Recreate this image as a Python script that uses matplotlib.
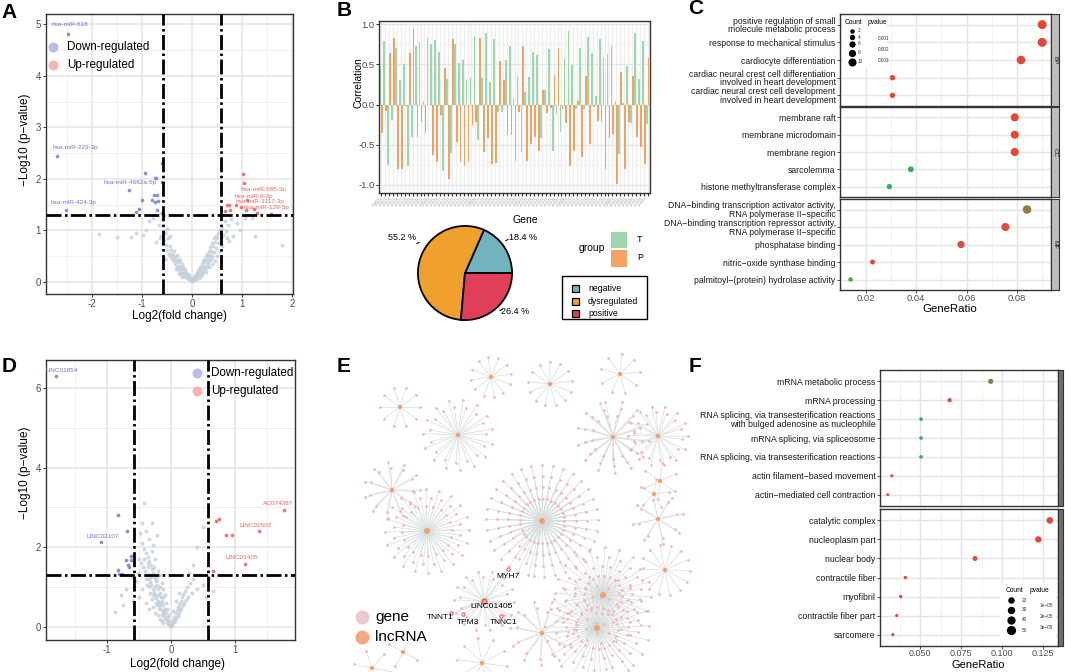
import numpy as np
import matplotlib
matplotlib.use("Agg")
import matplotlib.pyplot as plt
from matplotlib.colors import LinearSegmentedColormap, Normalize
from matplotlib.collections import LineCollection
from matplotlib.patches import Rectangle

plt.rcParams['font.family'] = ['Liberation Sans', 'DejaVu Sans']
plt.rcParams['axes.unicode_minus'] = False

# ======================= DATA =======================
# ---- Panel A (miRNA volcano) ----
A_grey = [(-1.85, 0.93), (-1.5, 0.88), (-1.22, 0.88), (-1.12, 0.95), (-0.98, 0.92), (-0.93, 1.0),
          (-0.86, 1.18), (-0.78, 1.25), (-0.72, 0.78), (-0.66, 1.1), (-0.62, 0.9), (-0.6, 1.2),
          (-0.58, 0.97), (-0.56, 0.82), (-0.54, 0.95), (-0.52, 0.72), (-0.5, 1.02), (-0.5, 0.62),
          (-0.48, 0.85), (-0.47, 0.55), (-0.45, 0.7), (-0.44, 0.5), (-0.42, 0.62), (-0.41, 0.45),
          (-0.4, 0.55), (-0.38, 0.5), (-0.37, 0.4), (-0.36, 0.6), (-0.35, 0.35), (-0.34, 0.48),
          (-0.32, 0.42), (-0.31, 0.3), (-0.3, 0.52), (-0.29, 0.38), (-0.28, 0.25), (-0.27, 0.45),
          (-0.26, 0.32), (-0.25, 0.2), (-0.24, 0.4), (-0.23, 0.28), (-0.22, 0.18), (-0.21, 0.35),
          (-0.2, 0.25), (-0.19, 0.15), (-0.18, 0.3), (-0.17, 0.22), (-0.16, 0.12), (-0.15, 0.26),
          (-0.14, 0.18), (-0.13, 0.1), (-0.12, 0.2), (-0.11, 0.14), (-0.1, 0.07), (-0.09, 0.16),
          (-0.08, 0.1), (-0.07, 0.05), (-0.06, 0.12), (-0.05, 0.07), (-0.04, 0.03), (-0.03, 0.08),
          (-0.02, 0.04), (-0.01, 0.02), (0.0, 0.01), (0.01, 0.03), (0.02, 0.06), (0.03, 0.04),
          (0.04, 0.1), (0.05, 0.07), (0.06, 0.14), (0.07, 0.1), (0.08, 0.05), (0.09, 0.17),
          (0.1, 0.12), (0.11, 0.22), (0.12, 0.15), (0.13, 0.08), (0.14, 0.25), (0.15, 0.18),
          (0.16, 0.3), (0.17, 0.22), (0.18, 0.12), (0.19, 0.35), (0.2, 0.28), (0.21, 0.4),
          (0.22, 0.2), (0.23, 0.32), (0.24, 0.45), (0.25, 0.25), (0.26, 0.38), (0.27, 0.5),
          (0.28, 0.3), (0.29, 0.42), (0.3, 0.55), (0.31, 0.35), (0.32, 0.48), (0.33, 0.6),
          (0.34, 0.4), (0.35, 0.52), (0.36, 0.68), (0.37, 0.45), (0.38, 0.6), (0.39, 0.75),
          (0.4, 0.5), (0.42, 0.7), (0.43, 0.85), (0.44, 0.58), (0.46, 0.78), (0.47, 0.9),
          (0.48, 0.65), (0.5, 0.85), (0.52, 0.95), (0.54, 0.75), (0.56, 1.0), (0.58, 0.88),
          (0.6, 1.05), (0.62, 0.92), (0.65, 1.18), (0.68, 0.98), (0.72, 1.1), (0.74, 0.8),
          (0.78, 1.22), (0.82, 0.9), (0.9, 1.15), (0.95, 1.0), (1.05, 1.25), (1.2, 1.25),
          (1.25, 0.9), (1.8, 0.72), (-0.55, 0.45), (-0.45, 0.9), (0.45, 0.4), (0.55, 0.6),
          (-0.33, 0.25), (-0.27, 0.15), (-0.2, 0.1), (0.2, 0.15), (0.27, 0.2), (0.33, 0.3),
          (0.4, 0.35), (0.5, 0.5), (0.6, 0.7), (0.7, 0.85), (-0.6, 0.75), (-0.65, 0.85)]
A_down_x = [-2.47, -2.69, -2.52, -0.95, -0.75, -0.73, -0.61, -1.27, -1.00, -1.07, -1.13,
            -0.77, -0.71, -0.80, -0.75, -0.69, -0.70, -0.60, -0.61]
A_down_y = [4.82, 2.45, 1.39, 2.12, 2.01, 2.02, 1.94, 1.78, 1.60, 1.42, 1.36,
            1.68, 1.68, 1.59, 1.55, 1.57, 1.40, 1.33, 2.30]
A_up_x = [1.02, 1.03, 0.69, 0.73, 0.65, 0.75, 0.88, 1.07, 1.23, 1.30, 1.57, 1.10, 0.97]
A_up_y = [2.10, 1.92, 1.50, 1.49, 1.38, 1.39, 1.49, 1.39, 1.42, 1.33, 1.31, 1.59, 1.46]
A_labels = ["hsa-miR-618", "hsa-miR-223-3p", "hsa-miR-4662a-5p", "hsa-miR-424-3p",
            "hsa-miR-585-3p", "hsa-miR-9-3p", "hsa-miR-3117-3p", "hsa-miR-129-5p"]
A_label_x = [-2.44, -2.34, -1.24, -2.37, 1.43, 1.23, 1.35, 1.49]
A_label_y = [4.99, 2.61, 1.93, 1.55, 1.79, 1.66, 1.56, 1.45]
A_label_up = [False, False, False, False, True, True, True, True]

# ---- Panel D (lncRNA volcano) ----
D_grey = [(-0.02, 0.04), (-0.03, 0.15), (-0.05, 0.08), (-0.06, 0.25), (-0.07, 0.12), (-0.08, 0.35),
          (-0.09, 0.2), (-0.1, 0.45), (-0.11, 0.28), (-0.12, 0.55), (-0.13, 0.35), (-0.14, 0.65),
          (-0.15, 0.42), (-0.16, 0.75), (-0.17, 0.5), (-0.18, 0.85), (-0.19, 0.58), (-0.2, 0.95),
          (-0.21, 0.65), (-0.22, 1.05), (-0.23, 0.72), (-0.24, 1.15), (-0.25, 0.8), (-0.26, 1.25),
          (-0.27, 0.88), (-0.28, 1.35), (-0.29, 0.95), (-0.3, 1.45), (-0.31, 1.05), (-0.32, 1.55),
          (-0.33, 1.12), (-0.34, 1.65), (-0.35, 1.2), (-0.36, 1.75), (-0.38, 1.3), (-0.39, 1.85),
          (-0.41, 1.4), (-0.42, 1.95), (-0.44, 1.5), (-0.45, 2.1), (-0.47, 1.6), (-0.48, 2.35),
          (-0.5, 1.7), (-0.46, 2.6), (-0.43, 3.1), (-0.52, 1.35), (-0.55, 1.15), (-0.58, 1.0),
          (-0.62, 1.25), (-0.7, 0.95), (-0.78, 0.8), (-0.88, 0.38), (-0.75, 0.55), (-0.6, 0.65),
          (-0.5, 0.75), (-0.4, 0.6), (-0.35, 0.45), (-0.3, 0.7), (-0.28, 0.5), (-0.25, 0.35),
          (-0.22, 0.55), (-0.2, 0.3), (-0.18, 0.2), (-0.15, 0.15), (-0.12, 0.1), (-0.3, 1.9),
          (-0.25, 1.7), (-0.2, 1.4), (-0.15, 1.1), (-0.1, 0.8), (-0.35, 2.2), (-0.28, 2.05),
          (-0.4, 2.4), (-0.22, 2.3), (-0.3, 2.6), (-0.45, 0.95), (-0.38, 1.05), (-0.33, 0.85),
          (-0.17, 1.3), (-0.12, 0.95), (-0.08, 0.6), (-0.06, 0.45), (-0.04, 0.3), (-0.26, 1.0),
          (-0.31, 1.25), (-0.36, 1.5), (-0.21, 0.8), (-0.16, 0.6), (-0.11, 0.4), (-0.07, 0.2),
          (0.0, 0.02), (0.01, 0.1), (0.02, 0.05), (0.03, 0.18), (0.04, 0.12), (0.05, 0.26),
          (0.06, 0.15), (0.07, 0.34), (0.08, 0.22), (0.09, 0.42), (0.1, 0.28), (0.11, 0.5),
          (0.12, 0.35), (0.13, 0.58), (0.14, 0.42), (0.15, 0.66), (0.16, 0.48), (0.17, 0.74),
          (0.18, 0.55), (0.19, 0.82), (0.2, 0.6), (0.22, 0.9), (0.23, 0.68), (0.25, 1.0),
          (0.27, 0.75), (0.3, 1.1), (0.32, 0.85), (0.35, 1.2), (0.4, 0.95), (0.45, 1.3),
          (0.5, 1.05), (0.55, 0.75), (0.6, 1.2), (0.65, 0.9), (0.4, 2.0), (0.5, 2.5),
          (0.35, 1.55), (0.28, 1.35), (0.12, 0.85), (0.08, 0.65), (0.03, 0.4),
          (-0.24, 0.6), (-0.19, 0.45), (-0.14, 0.3), (-0.29, 0.8), (-0.34, 1.0), (-0.39, 1.2),
          (-0.43, 1.7), (-0.37, 1.6), (-0.27, 1.5), (-0.23, 1.2), (-0.18, 1.0), (-0.13, 0.75)]
D_down_x = [-1.80, -0.83, -0.69, -1.10, -0.63, -0.63, -0.70, -0.68, -0.66, -0.83, -0.82, -0.77]
D_down_y = [6.29, 2.81, 2.41, 2.14, 1.78, 1.68, 1.68, 1.56, 1.51, 1.43, 1.32, 1.32]
D_up_x = [0.70, 0.75, 0.86, 0.96, 1.38, 1.77, 1.16, 0.66]
D_up_y = [2.65, 2.70, 2.31, 2.31, 2.40, 2.94, 1.58, 1.39]
D_labels = ["LINC01854", "LINC02107", "AC074387", "LINC02502", "LINC01405"]
D_label_x = [-1.71, -1.07, 1.67, 1.32, 1.11]
D_label_y = [6.43, 2.27, 3.09, 2.55, 1.73]
D_label_up = [False, False, True, True, True]

FC_CUT = 0.585
P_CUT = 1.301

# ---- Panel B (correlation bars) ----
B_T = [0.46, 0.79, -0.75, -0.19, 0.70, 0.30, 0.50, -0.77, -0.40, 0.73, 0.78, 0.04, 0.83, 0.75,
       0.80, 0.66, -0.83, 0.32, -0.60, 0.75, 0.52, 0.55, 0.31, 0.34, 0.85, -0.44, 0.33, 0.89,
       0.28, 0.82, -0.09, -0.09, 0.55, 0.73, 0.08, 0.35, -0.59, 0.16, 0.34, 0.66, 0.62, -0.41,
       0.18, 0.69, -0.58, -0.12, -0.34, 0.58, 0.91, 0.49, -0.05, 0.71, -0.05, 0.84, 0.64, 0.11,
       0.81, 0.59, 0.63, 0.73, 0.05, -0.62, 0.02, 0.48, -0.23, 0.89, 0.32, 0.79, -0.24]
B_P = [-0.35, -0.08, 0.64, 0.83, -0.80, -0.80, -0.02, 0.64, 0.94, -0.40, -0.22, -0.35, -0.01,
       -0.63, -0.71, -0.13, 0.46, -0.93, 0.82, -0.46, -0.71, -0.77, -0.71, -0.26, -0.22, 0.83,
       -0.59, -0.42, -0.74, -0.73, 0.54, 0.30, -0.38, -0.38, -0.70, -0.09, 0.73, -0.70, -0.49,
       -0.40, -0.58, 0.18, -0.11, -0.04, 0.37, 0.71, -0.05, -0.23, -0.77, -0.58, 0.04, -0.65,
       0.35, -0.49, -0.03, -0.21, -0.22, -0.80, -0.41, -0.36, -0.99, 0.41, -0.80, -0.22, 0.36,
       -0.40, -0.53, -0.74, 0.58]
B_genes = ["gene%02d" % (i + 1) for i in range(len(B_T))]
B_pie_labels = ["negative", "dysregulated", "positive"]
B_pie_vals = [18.4, 55.2, 26.4]

# ---- Panel C (GO dot plot, 3 facets) ----
C_BP_terms = ["positive regulation of small\nmolecule metabolic process",
              "response to mechanical stimulus", "cardiocyte differentiation",
              "cardiac neural crest cell differentiation\ninvolved in heart development",
              "cardiac neural crest cell development\ninvolved in heart development"]
C_BP_ratio = [0.090, 0.090, 0.0816, 0.0306, 0.0306]
C_BP_count = [12, 12, 11, 4, 4]
C_BP_p = [0.0002, 0.0002, 0.0002, 0.0002, 0.0002]
C_CC_terms = ["membrane raft", "membrane microdomain", "membrane region", "sarcolemma",
              "histone methyltransferase complex"]
C_CC_ratio = [0.0791, 0.0791, 0.0791, 0.0379, 0.0294]
C_CC_count = [10, 10, 10, 5, 4]
C_CC_p = [0.0002, 0.0002, 0.0002, 0.0031, 0.0032]
C_MF_terms = ["DNA\u2212binding transcription activator activity,\nRNA polymerase II\u2212specific",
              "DNA\u2212binding transcription repressor activity,\nRNA polymerase II\u2212specific",
              "phosphatase binding", "nitric\u2212oxide synthase binding",
              "palmitoyl\u2212(protein) hydrolase activity"]
C_MF_ratio = [0.084, 0.0754, 0.0578, 0.0227, 0.014]
C_MF_count = [11, 10, 8, 3, 2]
C_MF_p = [0.0016, 0.0003, 0.0005, 0.0003, 0.0026]
C_facets = ["BP", "CC", "MF"]

# ---- Panel F (GO dot plot, 2 facets) ----
F1_terms = ["mRNA metabolic process", "mRNA processing",
            "RNA splicing, via transesterification reactions\nwith bulged adenosine as nucleophile",
            "mRNA splicing, via spliceosome", "RNA splicing, via transesterification reactions",
            "actin filament\u2212based movement", "actin\u2212mediated cell contraction"]
F1_ratio = [0.093, 0.068, 0.0506, 0.0506, 0.0506, 0.0328, 0.0303]
F1_count = [40, 30, 22, 22, 22, 15, 14]
F1_p = [2.2e-5, 0.9e-5, 3.9e-5, 3.9e-5, 3.9e-5, 0.4e-5, 0.4e-5]
F2_terms = ["catalytic complex", "nucleoplasm part", "nuclear body", "contractile fiber",
            "myofibril", "contractile fiber part", "sarcomere"]
F2_ratio = [0.129, 0.122, 0.0835, 0.041, 0.0382, 0.0358, 0.0334]
F2_count = [57, 54, 38, 19, 18, 17, 16]
F2_p = [0.5e-5, 0.4e-5, 0.9e-5, 0.5e-5, 0.5e-5, 0.8e-5, 0.9e-5]

# ---- Panel E (lncRNA-gene network; hub layout in pixel space) ----
E_hub_x = [400, 491, 550, 620, 458, 613, 658, 392, 427, 542, 660, 654, 658, 665, 603, 597, 484, 542, 403, 482, 372]
E_hub_y = [407, 377, 384, 374, 435, 437, 436, 490, 531, 521, 481, 494, 519, 570, 595, 628, 601, 633, 652, 663, 668]
E_hub_n = [10, 12, 13, 9, 30, 40, 28, 22, 60, 130, 6, 5, 16, 14, 80, 90, 28, 22, 4, 10, 6]
E_hub_r = [20, 20, 22, 20, 35, 36, 30, 28, 42, 56, 18, 15, 25, 25, 48, 52, 30, 32, 16, 25, 18]
E_focus_hub = 16
E_genes = ["MYH7", "TNNT1", "TPM3", "TNNC1"]
E_gene_x = [508, 451, 463, 501]
E_gene_y = [569, 613, 614, 616]

# ======================= FIGURE =======================
W, H = 1065, 672
fig = plt.figure(figsize=(W / 100, H / 100), dpi=100)


def px_axes(l, t, r, b, **kw):
    return fig.add_axes([l / W, 1 - b / H, (r - l) / W, (b - t) / H], **kw)


def style_spines(ax, color='#333333', lw=1.0):
    for s in ax.spines.values():
        s.set_color(color)
        s.set_linewidth(lw)


def s_of(d_px):
    return (np.asarray(d_px) * 0.72) ** 2


GRID_MAJ = '#e4e4e4'
GRID_MIN = '#f1f1f1'
DASH = (0, (5.4, 1.25, 0.9, 1.25))


def volcano(ax, grey, dx, dy, ux, uy, labs, lx, ly, lup, xlim, ylim, xmaj, xmin_, ymaj, ymin_):
    ax.set_xlim(xlim)
    ax.set_ylim(ylim)
    for v in xmin_:
        ax.axvline(v, color=GRID_MIN, lw=0.7, zorder=0)
    for v in ymin_:
        ax.axhline(v, color=GRID_MIN, lw=0.7, zorder=0)
    for v in xmaj:
        ax.axvline(v, color=GRID_MAJ, lw=1.1, zorder=0)
    for v in ymaj:
        ax.axhline(v, color=GRID_MAJ, lw=1.1, zorder=0)
    gx, gy = zip(*grey)
    ax.scatter(gx, gy, s=8, c='#c5cedb', alpha=0.8, lw=0, zorder=2)
    ax.scatter(dx, dy, s=7, c='#8a8fd8', lw=0, zorder=3)
    ax.scatter(ux, uy, s=7, c='#f37474', lw=0, zorder=3)
    for v in (-FC_CUT, FC_CUT):
        ax.axvline(v, color='black', lw=2.0, ls=DASH, zorder=4, dash_capstyle='butt')
    ax.axhline(P_CUT, color='black', lw=2.0, ls=DASH, zorder=4, dash_capstyle='butt')
    for t, x, y, u in zip(labs, lx, ly, lup):
        ax.text(x, y, t, fontsize=4.6, color='#f06666' if u else '#6f76cf',
                ha='center', va='center', zorder=5)
    ax.set_xticks(xmaj)
    ax.set_yticks(ymaj)
    ax.tick_params(labelsize=7, labelcolor='#4d4d4d', length=2.5, width=0.7,
                   color='#333333', pad=1.2)
    style_spines(ax)


# ---- A ----
axA = px_axes(46, 14, 293, 294)
volcano(axA, A_grey, A_down_x, A_down_y, A_up_x, A_up_y, A_labels, A_label_x, A_label_y,
        A_label_up, (-2.92, 2.02), (-0.233, 5.2), [-2, -1, 0, 1, 2],
        [-2.5, -1.5, -0.5, 0.5, 1.5], [0, 1, 2, 3, 4, 5], [0.5, 1.5, 2.5, 3.5, 4.5])

# ---- D ----
axD = px_axes(46, 360, 295, 640)
volcano(axD, D_grey, D_down_x, D_down_y, D_up_x, D_up_y, D_labels, D_label_x, D_label_y,
        D_label_up, (-1.96, 1.94), (-0.33, 6.7), [-1, 0, 1],
        [-1.5, -0.5, 0.5, 1.5], [0, 2, 4, 6], [1, 3, 5])

# ---- B bars ----
axB = px_axes(379, 21, 650, 193)
nB = len(B_T)
xg = np.arange(nB)
axB.set_xlim(-0.6, nB - 0.4)
axB.set_ylim(-1.1, 1.04)
for xv in xg:
    axB.axvline(xv, color='#ededed', lw=1.0, zorder=0)
for yv in [-0.75, -0.25, 0.25, 0.75]:
    axB.axhline(yv, color=GRID_MIN, lw=0.6, zorder=0)
for yv in [-1, -0.5, 0, 0.5, 1]:
    axB.axhline(yv, color='#e4e4e4', lw=0.9, zorder=0)
axB.bar(xg - 0.24, B_T, width=0.44, color='#9ed7ad', zorder=2, lw=0)
axB.bar(xg + 0.24, B_P, width=0.44, color='#f59f63', zorder=2, lw=0)
axB.set_yticks([-1, -0.5, 0, 0.5, 1])
axB.set_yticklabels(["-1.0", "-0.5", "0.0", "0.5", "1.0"])
axB.set_xticks(xg)
axB.set_xticklabels(B_genes, rotation=45, ha='right', fontsize=2.4, color='#a0a0a0')
axB.tick_params(axis='y', labelsize=6.8, labelcolor='#4d4d4d', length=2, width=0.6, pad=1)
axB.tick_params(axis='x', length=2, width=0.8, color='#333333', pad=0.5)
style_spines(axB)

# ---- B pie ----
axP = px_axes(417, 225, 513, 321)
axP.pie(B_pie_vals, colors=['#72b4bd', '#f0a02c', '#df3f58'], startangle=0, counterclock=True,
        radius=1.0, wedgeprops=dict(edgecolor='black', linewidth=1.3))
axP.set_xlim(-1.02, 1.02)
axP.set_ylim(-1.02, 1.02)
axP.set_aspect('equal')
axP.axis('off')

# ---- C facets ----
cmap = LinearSegmentedColormap.from_list('pv', ['#ef4136', '#2eb45c'])
normC = Normalize(vmin=0.00009, vmax=0.00327)
normF = Normalize(vmin=0.36e-5, vmax=4.0e-5)


def dot_facet(ax, terms, ratio, count, pval, xlim, xmaj, xmin_, norm, dfun, fs, strip_ax, strip_lab,
              strip_color, xpad=1.2):
    n = len(terms)
    y = np.arange(n)[::-1]
    ax.set_xlim(xlim)
    ax.set_ylim(-0.6, n - 0.4)
    for v in xmin_:
        ax.axvline(v, color=GRID_MIN, lw=0.6, zorder=0)
    for v in xmaj:
        ax.axvline(v, color=GRID_MAJ, lw=1.0, zorder=0)
    for v in y:
        ax.axhline(v, color=GRID_MAJ, lw=1.0, zorder=0)
    ax.scatter(ratio, y, s=s_of(dfun(np.asarray(count))), c=pval, cmap=cmap, norm=norm,
               lw=0, zorder=3)
    ax.set_yticks(y)
    ax.set_yticklabels(terms, fontsize=fs, color='#1a1a1a', linespacing=0.95)
    ax.set_xticks(xmaj)
    ax.tick_params(axis='y', length=2, width=0.6, pad=1.2, color='#333333')
    ax.tick_params(axis='x', length=2, width=0.6, pad=xpad, color='#333333', labelsize=6.8,
                   labelcolor='#4d4d4d')
    style_spines(ax)
    strip_ax.set_xticks([])
    strip_ax.set_yticks([])
    strip_ax.set_facecolor(strip_color)
    style_spines(strip_ax, '#333333', 0.8)
    strip_ax.text(0.5, 0.5, strip_lab, rotation=270, ha='center', va='center', fontsize=4.5,
                  color='#1a1a1a', transform=strip_ax.transAxes)


def c_d(c):
    return 3.6 + 0.45 * c


def f_d(c):
    return 1.8 + 0.085 * c


C_xlim = (0.0098, 0.0935)
C_xmaj = [0.02, 0.04, 0.06, 0.08]
C_xmin = [0.01, 0.03, 0.05, 0.07, 0.09]
C_rows = [(14, 106), (107, 197), (199, 290)]
C_data = [(C_BP_terms, C_BP_ratio, C_BP_count, C_BP_p),
          (C_CC_terms, C_CC_ratio, C_CC_count, C_CC_p),
          (C_MF_terms, C_MF_ratio, C_MF_count, C_MF_p)]
for i, ((t0, b0), dat, lab) in enumerate(zip(C_rows, C_data, C_facets)):
    ax = px_axes(840, t0, 1051, b0)
    sax = px_axes(1051, t0, 1059, b0)
    dot_facet(ax, *dat, C_xlim, C_xmaj, C_xmin, normC, c_d, 6.2, sax, lab, '#bdbdbd')
    if i < 2:
        ax.tick_params(axis='x', labelbottom=False, length=0)

# ---- F facets ----
F_xlim = (0.0256, 0.134)
F_xmaj = [0.05, 0.075, 0.1, 0.125]
F_xmin = [0.0375, 0.0625, 0.0875, 0.1125]
F_rows = [(370, 506), (509, 646)]
F_data = [(F1_terms, F1_ratio, F1_count, F1_p), (F2_terms, F2_ratio, F2_count, F2_p)]
for i, ((t0, b0), dat) in enumerate(zip(F_rows, F_data)):
    ax = px_axes(880, t0, 1058, b0)
    sax = px_axes(1058, t0, 1063, b0)
    dot_facet(ax, *dat, F_xlim, F_xmaj, F_xmin, normF, f_d, 6.3, sax, "", '#6e6e6e', xpad=0.4)
    if i == 0:
        ax.tick_params(axis='x', labelbottom=False, length=0)
    else:
        ax.set_xticklabels(["0.050", "0.075", "0.100", "0.125"])
        ax.tick_params(axis='x', labelsize=6.5, length=1.8)

# ---- E network ----
axE = px_axes(330, 340, 700, 672)
axE.set_xlim(330, 700)
axE.set_ylim(672, 340)
axE.axis('off')
segs, leaf_x, leaf_y = [], [], []
for j, (hx, hy, n, r) in enumerate(zip(E_hub_x, E_hub_y, E_hub_n, E_hub_r)):
    rings = 1 if n <= 14 else (2 if n <= 30 else (3 if n <= 70 else 4))
    for k in range(n):
        ring = k % rings
        rr = r * (1.0 - 0.2 * ring)
        ang = 2 * np.pi * k / n + 0.9 * j + 0.35 * ring
        x = hx + rr * np.cos(ang)
        y = hy + rr * np.sin(ang)
        segs.append([(hx, hy), (x, y)])
        leaf_x.append(x)
        leaf_y.append(y)
fh = E_focus_hub
for gx_, gy_ in zip(E_gene_x, E_gene_y):
    segs.append([(E_hub_x[fh], E_hub_y[fh]), (gx_, gy_)])
axE.add_collection(LineCollection(segs, colors='#d6dcdc', linewidths=0.5, zorder=1))
axE.scatter(leaf_x, leaf_y, s=s_of(2.7), c='#f2b6b6', lw=0, zorder=2)
hub_d = [6.0 if n >= 50 else 4.2 for n in E_hub_n]
axE.scatter(E_hub_x, E_hub_y, s=s_of(hub_d), c='#f5a06a', lw=0, zorder=3)
axE.scatter([E_hub_x[fh]], [E_hub_y[fh]], s=s_of(5), facecolor='#f5a06a', edgecolor='#e05050',
            lw=0.8, zorder=4)
axE.scatter(E_gene_x, E_gene_y, s=s_of(3.4), facecolor='#fbe0e0', edgecolor='#e05a5a', lw=0.7,
            zorder=4)

# ======================= OVERLAY (text, legends) =======================
ov = fig.add_axes([0, 0, 1, 1], zorder=10)
ov.set_xlim(0, W)
ov.set_ylim(H, 0)
ov.axis('off')
ov.patch.set_alpha(0)

# panel letters
for lab, x, y in [("A", 9.5, 12.5), ("B", 344.5, 10.5), ("C", 695.5, 9), ("D", 9.5, 367),
                  ("E", 343.5, 366.5), ("F", 695.5, 366)]:
    ov.text(x, y, lab, fontsize=15, fontweight='bold', ha='center', va='center')

# axis titles
MINUS = "\u2212"
ov.text(179, 316, "Log2(fold change)", fontsize=8.5, ha='center', va='center')
ov.text(25, 140, MINUS + "Log10 (p" + MINUS + "value)", fontsize=8.5, ha='center', va='center',
        rotation=90)
ov.text(177, 664, "Log2(fold change)", fontsize=8.5, ha='center', va='center')
ov.text(25, 473, MINUS + "Log10 (p" + MINUS + "value)", fontsize=8.5, ha='center', va='center',
        rotation=90)
ov.text(358, 83, "Correlation", fontsize=7.5, ha='center', va='center', rotation=90)
ov.text(525, 220, "Gene", fontsize=7.5, ha='center', va='center')
ov.text(950, 309, "GeneRatio", fontsize=8.2, ha='center', va='center')
ov.text(978, 665, "GeneRatio", fontsize=8.0, ha='center', va='center')

# volcano legends
for (cx, cy) in [(53, 47), (197, 373)]:
    ov.scatter([cx], [cy], s=s_of(10), c='#b9bde9', lw=0)
    ov.scatter([cx], [cy + 18], s=s_of(10), c='#f7b4b4', lw=0)
    ov.text(cx + 14, cy, "Down-regulated", fontsize=8.4, ha='left', va='center')
    ov.text(cx + 14, cy + 18, "Up-regulated", fontsize=8.4, ha='left', va='center')

# B legends
ov.text(592, 248, "group", fontsize=7.5, ha='center', va='center')
ov.add_patch(Rectangle((611, 232), 16, 16, facecolor='#9ed7ad', edgecolor='none'))
ov.add_patch(Rectangle((611, 250), 16, 17, facecolor='#f5a267', edgecolor='none'))
ov.text(637, 240, "T", fontsize=6.5, ha='left', va='center')
ov.text(637, 258, "P", fontsize=6.5, ha='left', va='center')
ov.add_patch(Rectangle((562, 276), 85, 43, facecolor='white', edgecolor='black', lw=1.0))
for lab, col, yy in zip(B_pie_labels, ['#72b4bd', '#f0a02c', '#df3f58'], [288.5, 301, 313]):
    ov.add_patch(Rectangle((572, yy - 3.5), 7, 7, facecolor=col, edgecolor='black', lw=0.9))
    ov.text(588, yy, lab, fontsize=6.3, ha='left', va='center')
# pie value labels
for v, (tx, ty), (mx, my) in zip(B_pie_vals, [(523, 237), (402, 238), (515, 312)],
                                 [(507, 240), (418, 243), (501, 310)]):
    ov.text(tx, ty, "%.1f %%" % v, fontsize=6.5, ha='center', va='center')
    ov.plot([mx - 1, mx + 1], [my + 0.5, my - 0.5], color='black', lw=0.8)

# C legend
ov.add_patch(Rectangle((843, 16), 43, 52, facecolor='white', edgecolor='none', zorder=1))
ov.text(845, 22.5, "Count", fontsize=4.8, ha='left', va='center', zorder=2)
ov.text(868, 22.5, "pvalue", fontsize=4.8, ha='left', va='center', zorder=2)
C_leg_counts = [2, 4, 6, 8, 10]
for c, yy in zip(C_leg_counts, [31, 37.3, 43.5, 52.5, 61.5]):
    ov.scatter([852], [yy], s=s_of(c_d(c)), c='black', lw=0, zorder=2)
    ov.text(857.5, yy, str(c), fontsize=3.4, color='#333333', ha='left', va='center', zorder=2)
cbC = px_axes(868, 28, 876, 63)
cbC.imshow(np.linspace(0.00009, 0.00327, 100)[:, None], aspect='auto', cmap=cmap, norm=normC,
           extent=(0, 1, 0.00327, 0.00009))
cbC.axis('off')
for pv, lab in [(0.001, "0.001"), (0.002, "0.002"), (0.003, "0.003")]:
    yy = 28 + (pv - 0.00009) / (0.00327 - 0.00009) * 35
    ov.plot([868, 869.5], [yy, yy], color='white', lw=0.6, zorder=3)
    ov.plot([874.5, 876], [yy, yy], color='white', lw=0.6, zorder=3)
    ov.text(878.3, yy, lab, fontsize=3.4, color='#333333', ha='left', va='center', zorder=2)

# F legend
ov.add_patch(Rectangle((1000, 583), 56, 60, facecolor='white', edgecolor='none', zorder=1))
ov.text(1006, 590, "Count", fontsize=4.8, ha='left', va='center', zorder=2)
ov.text(1030, 590, "pvalue", fontsize=4.8, ha='left', va='center', zorder=2)
F_leg_counts = [20, 30, 40, 50]
for c, yy, d in zip(F_leg_counts, [600, 609.5, 619.5, 630], [6.5, 7.4, 8.3, 9.2]):
    ov.scatter([1011], [yy], s=s_of(d), c='black', lw=0, zorder=2)
    ov.text(1021.5, yy, str(c), fontsize=3.4, color='#333333', ha='left', va='center', zorder=2)
cbF = px_axes(1032, 598, 1038, 639)
cbF.imshow(np.linspace(0.36e-5, 4.0e-5, 100)[:, None], aspect='auto', cmap=cmap, norm=normF,
           extent=(0, 1, 4.0e-5, 0.36e-5))
cbF.axis('off')
for pv, lab in [(1e-5, "1e" + MINUS + "05"), (2e-5, "2e" + MINUS + "05"), (3e-5, "3e" + MINUS + "05")]:
    yy = 598 + (pv - 0.36e-5) / (4.0e-5 - 0.36e-5) * 41
    ov.plot([1032, 1033.3], [yy, yy], color='white', lw=0.6, zorder=3)
    ov.plot([1036.7, 1038], [yy, yy], color='white', lw=0.6, zorder=3)
    ov.text(1040, yy, lab, fontsize=3.4, color='#333333', ha='left', va='center', zorder=2)

# E labels and legend
for lab, tx, ty in zip(E_genes + ["LINC01405"], [508, 440, 468, 504, 492], [576.5, 617.5, 622, 623, 607]):
    ov.text(tx, ty, lab, fontsize=6, ha='center', va='center')
ov.scatter([362], [617], s=s_of(14), c='#ecc9cd', lw=0)
ov.scatter([362], [637], s=s_of(14), c='#f5a97e', lw=0)
ov.text(375, 617, "gene", fontsize=11, ha='left', va='center')
ov.text(375, 637, "lncRNA", fontsize=11, ha='left', va='center')

fig.savefig("out.png", dpi=100)
